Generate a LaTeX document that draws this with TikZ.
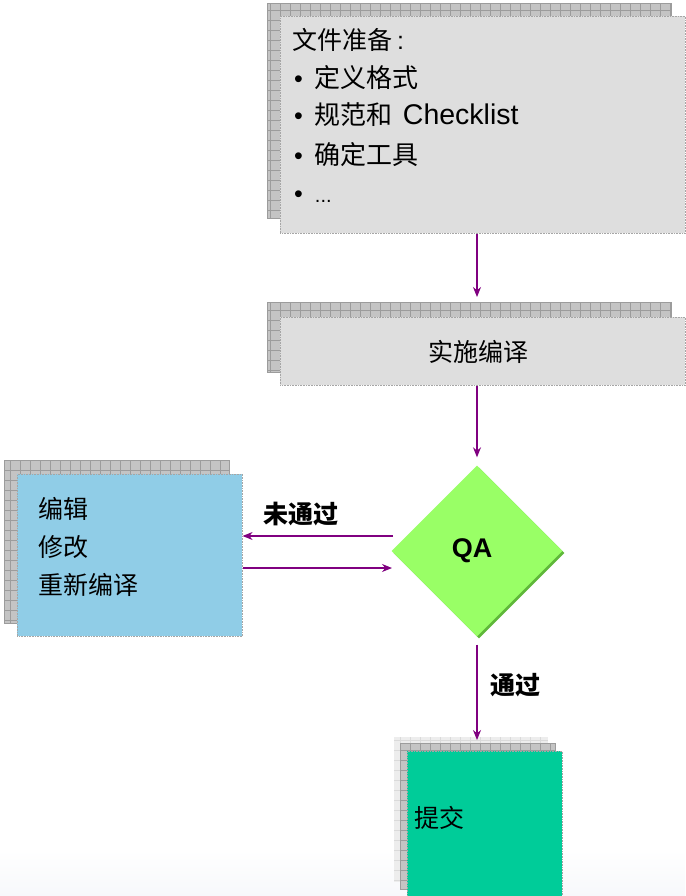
\documentclass[tikz,border=0pt]{standalone}
\usepackage{fontspec}
\setmainfont{Liberation Sans}
\newfontfamily\cjk{Noto Sans CJK SC}
\usetikzlibrary{shapes.geometric,arrows.meta}
\definecolor{boxgray}{HTML}{DEDEDE}
\definecolor{shfill}{HTML}{C4C4C4}
\definecolor{shline}{HTML}{9C9C9C}
\definecolor{shlight}{HTML}{EDEDED}
\definecolor{shlightline}{HTML}{DADADA}
\definecolor{fixblue}{HTML}{90CDE7}
\definecolor{qagreen}{HTML}{99FF66}
\definecolor{qadark}{HTML}{5FB83A}
\definecolor{subgreen}{HTML}{00CC99}
\definecolor{arrpurple}{HTML}{800080}
\definecolor{bgbottom}{HTML}{F7F8FB}
\tikzset{
  gridshadow/.style={fill=shfill},
  gridlines/.style={draw=shline, line width=0.6pt},
  panel/.style={draw=gray!70, densely dotted, line width=0.6pt, inner sep=0, anchor=north west},
  txt/.style={inner sep=0, anchor=base west, font=\cjk\fontsize{25}{30}\selectfont},
  btxt/.style={inner sep=0, anchor=base west, font=\cjk\fontsize{26}{30}\selectfont},
  lbl/.style={inner sep=0, anchor=base west, font=\cjk\bfseries\fontsize{25}{30}\selectfont},
  arr/.style={draw=arrpurple, line width=1.1pt, -{Stealth[length=10pt,width=8pt]}},
}
\newcommand\mkshadow[4]{%
  \fill[gridshadow] (#1,#2) rectangle (#3,#4);
  \begin{scope}
    \clip (#1,#2) rectangle (#3,#4);
    \draw[gridlines, step=10pt] (#1,#2) grid (#3,#4);
  \end{scope}
  \draw[shline, line width=0.6pt] (#1,#2) rectangle (#3,#4);
}
\newcommand\bul{{\fontspec{Liberation Sans}\fontsize{25}{30}\selectfont•}\hspace{12pt}}
\begin{document}
\begin{tikzpicture}[x=1pt,y=-1pt]
\useasboundingbox (0,0) rectangle (685,896);
\fill[white] (0,0) rectangle (685,896);
\shade[top color=white, bottom color=bgbottom] (0,850) rectangle (685,896);

% --- box 1: preparation
\mkshadow{267}{3}{671}{218}
\node[panel, fill=boxgray, minimum width=405pt, minimum height=217pt] (prep) at (280,16) {};
\node[txt] (p0) at (292,50) {文件准备\hspace{5pt}{\fontspec{Liberation Sans}:}};
\node[btxt] (p1) at (294,88) {\bul 定义格式};
\node[btxt] (p2) at (294,125) {\bul 规范和\hspace{10pt}{\fontspec{Liberation Sans}\fontsize{28.5}{30}\selectfont Checklist}};
\node[btxt] (p3) at (294,165) {\bul 确定工具};
\node[btxt] (p4) at (294,203) {\bul {\fontspec{Liberation Sans}\fontsize{20}{24}\selectfont...}};

% --- box 2: compile
\mkshadow{267}{302}{671}{372}
\node[panel, fill=boxgray, minimum width=405pt, minimum height=68pt] (compile) at (280,317) {};
\node[txt, anchor=base] (ctext) at (478,361) {实施编译};

% --- QA diamond
\node[diamond, fill=qadark, minimum width=171pt, minimum height=171pt, inner sep=0] (qashadow) at (479,553) {};
\node[diamond, fill=qagreen, minimum width=171pt, minimum height=171pt, inner sep=0] (qa) at (477,551) {};
\node[inner sep=0, anchor=base, font=\bfseries\fontsize{27}{30}\selectfont] (qatext) at (472,557) {QA};

% --- fix box
\mkshadow{4}{460}{229}{623}
\node[panel, fill=fixblue, minimum width=225pt, minimum height=162pt] (fix) at (17,474) {};
\node[txt] (f1) at (38,518) {编辑};
\node[txt] (f2) at (38,556) {修改};
\node[txt] (f3) at (38,594) {重新编译};

% --- submit box
\fill[shlight] (394,737) rectangle (548,882);
\begin{scope}
  \clip (394,737) rectangle (548,882);
  \draw[shlightline, line width=0.6pt, step=10pt] (394,737) grid (548,882);
\end{scope}
\mkshadow{400}{743}{555}{889}
\node[panel, fill=subgreen, minimum width=155pt, minimum height=150pt] (submit) at (407,751) {};
\node[txt] (s1) at (414,827) {提交};

% --- connectors
\coordinate (qaout) at (393,536);
\coordinate (qain) at (392,568);
\draw[arr, shorten >=20pt] (prep.south -| qa.north) -- (compile.north -| qa.north);
\draw[arr, shorten >=8pt] (compile.south -| qa.north) -- (qa.north);
\draw[arr] (qaout) -- (qaout -| fix.east);
\draw[arr] (qain -| fix.east) -- (qain);
\draw[arr, shorten <=8pt, shorten >=11pt] (qa.south) -- (submit.north -| qa.south);
\node[lbl] (fail) at (263,523) {未通过};
\node[lbl] (pass) at (490,694) {通过};
\end{tikzpicture}
\end{document}
